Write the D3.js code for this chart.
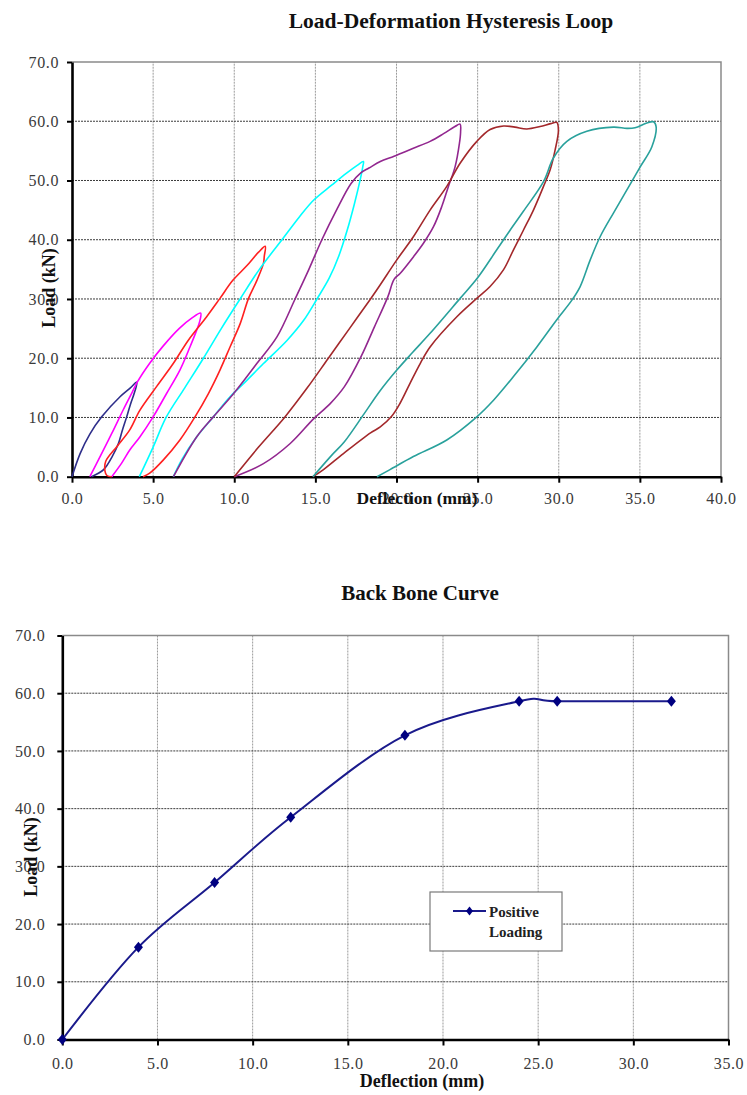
<!DOCTYPE html>
<html><head><meta charset="utf-8">
<script src="https://cdn.jsdelivr.net/npm/d3@7"></script>
<style>body{margin:0;background:#fff}svg{display:block}</style>
</head><body>
<svg id="c" width="747" height="1095"></svg>
<script>
// ---------- Data: hysteresis loops (deflection mm, load kN) ----------
const loop1 = [[0,0],[0.5,3.9],[1.1,7.2],[1.83,10.1],[2.96,13.5],[3.6,15.0],[4.0,16.0],[3.85,14.2],[3.6,12.2],[3.37,10.1],[3.1,7.8],[2.86,5.6],[2.5,3.5],[1.95,1.2],[1.2,0]];
const loop2 = [[1.1,0],[1.73,3.4],[2.45,7.3],[3.16,11.3],[3.7,14.2],[4.03,16.0],[4.8,19.2],[5.6,22.0],[6.6,25.0],[7.4,26.8],[7.93,27.6],[7.88,26.3],[7.68,24.7],[7.27,21.9],[6.65,18.0],[5.82,14.0],[5.0,10.1],[4.18,6.7],[3.56,4.5],[3.06,2.3],[2.45,0]];
const loop3 = [[2.45,0],[2.15,0.2],[2.03,1.0],[2.08,2.6],[2.8,5.2],[3.56,7.9],[4.18,11.2],[5.21,15.2],[6.24,19.1],[7.16,23.0],[8.3,27.0],[9.12,30.1],[9.9,33.1],[10.77,35.6],[11.5,37.9],[11.91,38.9],[11.85,37.2],[11.8,36.0],[11.39,33.1],[10.88,30.1],[10.36,25.8],[9.74,21.9],[9.12,18.0],[8.4,14.0],[7.58,10.1],[6.65,6.2],[5.62,2.8],[4.79,0.6],[4.38,0]];
const loop4 = [[4.15,0],[5.0,5.0],[5.8,10.0],[6.95,15.0],[8.1,20.0],[9.2,25.0],[10.36,30.0],[11.55,35.0],[13.0,40.2],[14.0,43.8],[14.9,46.7],[16.0,49.2],[16.9,51.2],[17.6,52.6],[17.96,53.2],[17.92,52.3],[17.76,50.1],[17.4,46.0],[16.95,41.5],[16.45,37.3],[15.85,33.5],[15.1,30.0],[14.28,26.4],[13.25,23.0],[11.8,19.1],[10.57,15.7],[9.74,13.5],[8.71,10.1],[7.68,6.7],[6.75,2.8],[6.25,0]];
const loop5 = [[6.25,0],[7.68,6.7],[8.71,10.1],[9.95,14.0],[11.39,19.1],[12.63,23.6],[13.75,30.0],[14.6,35.0],[15.4,40.0],[16.3,45.0],[17.2,49.5],[17.8,51.3],[18.3,52.1],[19.0,53.2],[19.85,54.1],[21.0,55.4],[22.07,56.6],[22.9,57.9],[23.6,59.1],[23.92,59.5],[23.95,58.2],[23.88,56.3],[23.61,52.3],[23.2,49.0],[22.79,45.6],[22.28,42.2],[21.66,39.4],[21.04,37.1],[20.22,34.3],[19.85,33.3],[19.47,30.4],[18.64,25.3],[17.82,20.3],[16.79,15.2],[15.9,12.3],[14.9,9.8],[13.45,5.6],[11.8,2.2],[10.0,0]];
const loop6 = [[10.0,0],[11.5,5.0],[13.1,10.0],[14.5,15.0],[15.8,20.0],[17.1,25.0],[18.4,30.0],[19.0,32.4],[20.02,36.6],[21.04,40.5],[22.07,45.0],[23.1,49.0],[23.92,52.9],[24.95,56.6],[25.77,58.6],[26.6,59.2],[27.3,59.0],[28.03,58.7],[28.85,59.1],[29.5,59.6],[29.88,59.8],[29.98,58.5],[29.78,55.2],[29.47,51.8],[29.06,49.0],[28.44,45.0],[27.82,41.6],[27.21,38.3],[26.59,34.9],[25.77,32.1],[24.95,30.1],[23.72,27.0],[22.07,21.9],[21.46,19.1],[20.84,15.8],[20.22,12.4],[19.7,10.2],[19.0,8.4],[18.4,7.4],[16.73,3.9],[15.5,1.2],[14.85,0]];
const loop7 = [[14.85,0],[16.0,3.6],[16.79,5.9],[18.0,10.6],[18.99,14.5],[20.02,18.0],[21.0,21.0],[22.07,24.2],[23.92,30.1],[24.95,33.4],[26.18,38.3],[27.0,41.6],[27.82,44.8],[29.06,49.8],[29.67,53.8],[30.5,56.6],[31.73,58.3],[33.37,59.0],[34.2,58.8],[34.7,58.9],[35.43,59.7],[35.84,59.9],[36.0,59.1],[35.74,55.7],[35.02,52.3],[34.2,48.4],[33.37,44.5],[32.55,40.5],[31.94,36.6],[31.32,32.1],[30.81,29.8],[29.88,26.5],[28.65,21.9],[27.21,16.9],[25.98,12.9],[24.95,10.1],[23.1,6.2],[21.04,3.4],[19.6,1.2],[18.8,0]];
const loops = [loop1, loop2, loop3, loop4, loop5, loop6, loop7];
const loopColors = ["#2e2e8a", "#ff00ff", "#ff2020", "#00ffff", "#92278f", "#a3282b", "#29a19c"];
const hystXTicks = [0, 5, 10, 15, 20, 25, 30, 35, 40];
const hystYTicks = [0, 10, 20, 30, 40, 50, 60, 70];

// ---------- Data: back bone curve ----------
const backboneDefl = [0, 4, 8, 12, 18, 24, 26, 32];
const backboneLoad = [0, 16.0, 27.2, 38.5, 52.7, 58.6, 58.6, 58.6];
const bbXTicks = [0, 5, 10, 15, 20, 25, 30, 35];
const bbYTicks = [0, 10, 20, 30, 40, 50, 60, 70];

const FONT = '"Liberation Serif","Times New Roman",serif';
const svg = d3.select("#c");
const fmt = d3.format(".1f");

function drawFrame(g, x, y, xTicks, yTicks, o) {
  const [x0, x1] = x.range();
  const [y0, y1] = y.range();
  g.append("g").selectAll("line").data(xTicks.slice(1, -1)).join("line")
    .attr("x1", d => x(d)).attr("x2", d => x(d)).attr("y1", y0).attr("y2", y1)
    .attr("stroke", "#9a9a9a").attr("stroke-width", 1).attr("stroke-dasharray", "2,1");
  g.append("g").selectAll("line").data(yTicks.slice(1, -1)).join("line")
    .attr("x1", x0).attr("x2", x1).attr("y1", d => y(d)).attr("y2", d => y(d))
    .attr("stroke", "#3c3c3c").attr("stroke-width", 1).attr("stroke-dasharray", "2,1");
  g.append("path").attr("d", `M${x0},${y1}H${x1}V${y0}`)
    .attr("fill", "none").attr("stroke", "#8a8a8a").attr("stroke-width", 1.5);

  const ax = g.append("g").attr("transform", `translate(0,${y0})`)
    .call(d3.axisBottom(x).tickValues(xTicks).tickFormat(fmt).tickSize(6).tickSizeOuter(0).tickPadding(o.xPad));
  const ay = g.append("g").attr("transform", `translate(${x0},0)`)
    .call(d3.axisLeft(y).tickValues(yTicks).tickFormat(fmt).tickSize(5).tickSizeOuter(0).tickPadding(o.yPad));
  [ax, ay].forEach(a => {
    a.select(".domain").attr("stroke", "#000").attr("stroke-width", 2.6);
    a.selectAll(".tick line").attr("stroke", "#000").attr("stroke-width", 2);
    a.selectAll(".tick text").attr("font-family", FONT).attr("font-size", 16)
      .attr("letter-spacing", "0.6px").attr("fill", "#3a3a3a");
  });
}

// ---------- Chart 1: hysteresis ----------
const x1 = d3.scaleLinear().domain([0, 40]).range([72, 721]);
const y1 = d3.scaleLinear().domain([0, 70]).range([476.7, 62]);
const g1 = svg.append("g");
drawFrame(g1, x1, y1, hystXTicks, hystYTicks, {xPad: 10, yPad: 8});

const line1 = d3.line().x(d => x1(d[0])).y(d => y1(d[1])).curve(d3.curveCatmullRom.alpha(0.5));
g1.append("g").selectAll("path").data(loops).join("path")
  .attr("d", line1).attr("fill", "none")
  .attr("stroke", (d, i) => loopColors[i]).attr("stroke-width", 1.6)
  .attr("stroke-linejoin", "round");

g1.append("text").attr("x", 451).attr("y", 28).attr("text-anchor", "middle")
  .attr("font-family", FONT).attr("font-weight", "bold").attr("font-size", 21.5)
  .attr("fill", "#111").text("Load-Deformation Hysteresis Loop");
g1.append("text").attr("x", 417).attr("y", 504).attr("text-anchor", "middle")
  .attr("font-family", FONT).attr("font-weight", "bold").attr("font-size", 17.5)
  .attr("fill", "#111").text("Deflection (mm)");
g1.append("text").attr("transform", "translate(55,288) rotate(-90)").attr("text-anchor", "middle")
  .attr("font-family", FONT).attr("font-weight", "bold").attr("font-size", 18)
  .attr("fill", "#111").text("Load (kN)");

// ---------- Chart 2: back bone curve ----------
const x2 = d3.scaleLinear().domain([0, 35]).range([62.3, 728.5]);
const y2 = d3.scaleLinear().domain([0, 70]).range([1039.5, 635.5]);
const g2 = svg.append("g");
drawFrame(g2, x2, y2, bbXTicks, bbYTicks, {xPad: 12, yPad: 12});

const bb = backboneDefl.map((d, i) => [d, backboneLoad[i]]);
const line2 = d3.line().x(d => x2(d[0])).y(d => y2(d[1])).curve(d3.curveCardinal.tension(0));
g2.append("path").datum(bb).attr("d", line2).attr("fill", "none")
  .attr("stroke", "#1a1a8c").attr("stroke-width", 2);
const diamond = "M0,-5.5L4.5,0L0,5.5L-4.5,0Z";
g2.append("g").selectAll("path").data(bb).join("path")
  .attr("transform", d => `translate(${x2(d[0])},${y2(d[1])})`)
  .attr("d", diamond).attr("fill", "#000080");

g2.append("text").attr("x", 420).attr("y", 600).attr("text-anchor", "middle")
  .attr("font-family", FONT).attr("font-weight", "bold").attr("font-size", 21)
  .attr("fill", "#111").text("Back Bone Curve");
g2.append("text").attr("x", 422).attr("y", 1087).attr("text-anchor", "middle")
  .attr("font-family", FONT).attr("font-weight", "bold").attr("font-size", 18)
  .attr("fill", "#111").text("Deflection (mm)");
g2.append("text").attr("transform", "translate(37,857) rotate(-90)").attr("text-anchor", "middle")
  .attr("font-family", FONT).attr("font-weight", "bold").attr("font-size", 18)
  .attr("fill", "#111").text("Load (kN)");

// legend
const lg = g2.append("g");
lg.append("rect").attr("x", 430).attr("y", 892).attr("width", 132).attr("height", 59)
  .attr("fill", "#fff").attr("stroke", "#7a7a7a").attr("stroke-width", 1.2);
lg.append("line").attr("x1", 453).attr("x2", 486).attr("y1", 911).attr("y2", 911)
  .attr("stroke", "#1a1a8c").attr("stroke-width", 2);
lg.append("path").attr("transform", "translate(469.5,911)").attr("d", "M0,-4.5L3.5,0L0,4.5L-3.5,0Z").attr("fill", "#000080");
lg.append("text").attr("x", 489).attr("y", 917).attr("font-family", FONT).attr("font-weight", "bold")
  .attr("font-size", 15).attr("fill", "#222").text("Positive");
lg.append("text").attr("x", 489).attr("y", 937).attr("font-family", FONT).attr("font-weight", "bold")
  .attr("font-size", 15).attr("fill", "#222").text("Loading");
</script>
</body></html>
